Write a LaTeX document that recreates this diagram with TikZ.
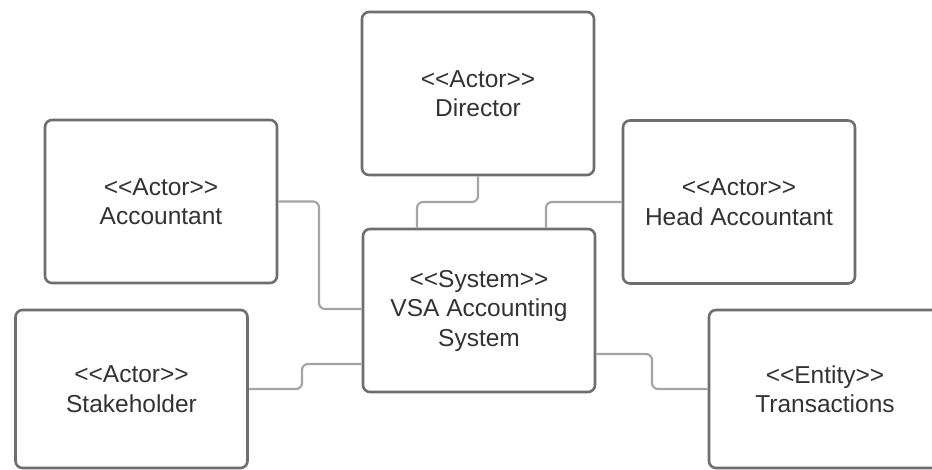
\documentclass[tikz,border=0pt]{standalone}
\usepackage{fontspec}
\setmainfont{Liberation Sans}[Ligatures=TeXOff]
\definecolor{boxline}{HTML}{6E6E6E}
\definecolor{connline}{HTML}{A4A4A4}
\definecolor{txt}{HTML}{333333}
\begin{document}
\begin{tikzpicture}[x=1pt,y=-1pt,
  umlbox/.style={draw=boxline, line width=2.6pt, rounded corners=7pt, fill=white,
    minimum width=232pt, minimum height=163pt, align=center, text=txt,
    font=\fontsize{24.5}{29.5}\selectfont, inner sep=0pt},
  conn/.style={draw=connline, line width=2.2pt, rounded corners=6pt}]
\useasboundingbox (0,0) rectangle (932,470);
\clip (0,0) rectangle (932,470);
\node[umlbox] (dir) at (478,93.5) {<<Actor>>\\Director};
\node[umlbox] (acc) at (161,201.5) {<<Actor>>\\Accountant};
\node[umlbox] (head) at (739,202) {<<Actor>>\\Head Accountant};
\node[umlbox] (sys) at (479,310.5) {<<System>>\\VSA Accounting\\System};
\node[umlbox, minimum height=158pt] (stake) at (131.5,389) {<<Actor>>\\Stakeholder};
\node[umlbox, minimum height=158pt] (trans) at (825,389) {<<Entity>>\\Transactions};
\draw[conn] (acc.east) -- (319,201.5) -- (319,309) -- (sys.west |- 0,309);
\draw[conn] (dir.south) -- (478,202) -- (417,202) -- (sys.north -| 417,0);
\draw[conn] (head.west) -- (546,202) -- (sys.north -| 546,0);
\draw[conn] (stake.east) -- (302,389) -- (302,364) -- (sys.west |- 0,364);
\draw[conn] (sys.east |- 0,354) -- (652,354) -- (652,389) -- (trans.west);
\end{tikzpicture}
\end{document}
